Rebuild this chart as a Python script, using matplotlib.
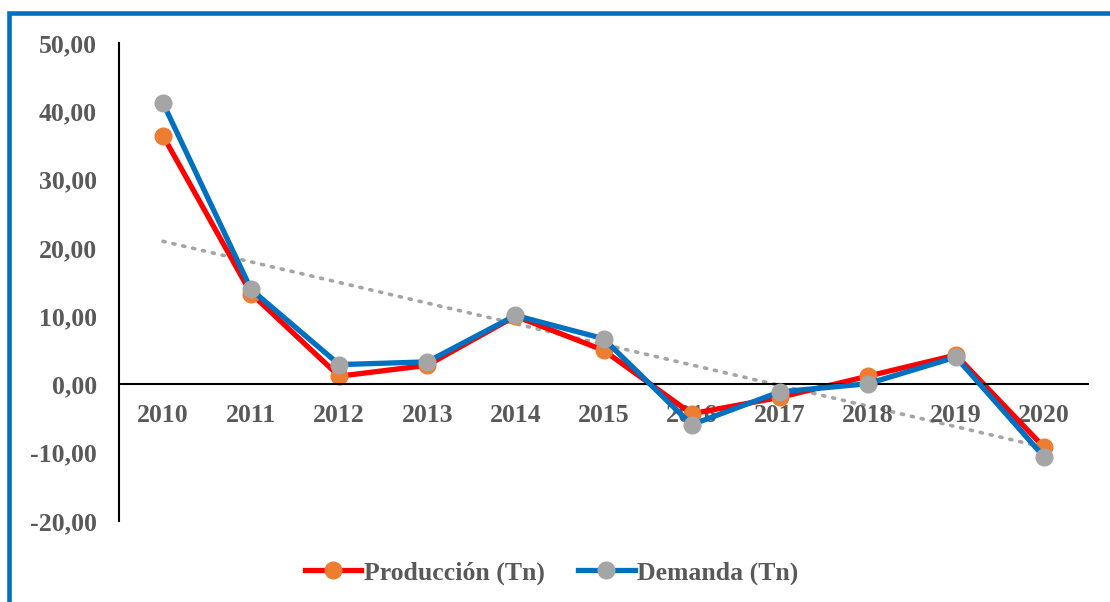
import matplotlib.pyplot as plt
import numpy as np
from matplotlib.patches import Rectangle

plt.rcParams["font.family"] = ["Liberation Serif", "DejaVu Serif"]
plt.rcParams["font.weight"] = "bold"

years = ["2010", "2011", "2012", "2013", "2014", "2015",
         "2016", "2017", "2018", "2019", "2020"]
produccion = [36.4, 13.3, 1.2, 2.8, 10.0, 5.0, -4.3, -1.9, 1.2, 4.3, -9.2]
demanda = [41.2, 13.9, 2.9, 3.3, 10.1, 6.7, -5.9, -1.1, 0.1, 4.0, -10.6]

text_color = "#595959"

fig = plt.figure(figsize=(11.1, 6.02), dpi=100)
ax = fig.add_axes([0.1072, 0.1346, 0.873, 0.794])

x = np.arange(len(years))

# Linear trend of demand
coef = np.polyfit(x, demanda, 1)
ax.plot(x, np.polyval(coef, x), color="#A5A5A5", lw=2.6,
        linestyle=(0, (0.6, 2.2)), dash_capstyle="round", zorder=1)

ax.plot(x, produccion, color="#FF0000", lw=3.8, marker="o", ms=12,
        markerfacecolor="#ED7D31", markeredgecolor="#ED7D31",
        label="Producción (Tn)", zorder=2)
ax.plot(x, demanda, color="#0070C0", lw=3.8, marker="o", ms=12,
        markerfacecolor="#A5A5A5", markeredgecolor="#A5A5A5",
        label="Demanda (Tn)", zorder=3)

ax.set_xlim(-0.5, len(years) - 0.5)
ax.set_ylim(-20, 50)
ax.set_yticks(np.arange(-20, 51, 10))
ax.set_yticklabels([f"{v:.2f}".replace(".", ",") for v in np.arange(-20, 51, 10)])
ax.set_xticks(x)
ax.set_xticklabels(years)

ax.spines["top"].set_visible(False)
ax.spines["right"].set_visible(False)
ax.spines["bottom"].set_position(("data", 0))
ax.spines["bottom"].set_linewidth(1.5)
ax.spines["left"].set_linewidth(1.5)

ax.tick_params(axis="both", length=0, labelsize=18.5, colors=text_color)
ax.tick_params(axis="y", pad=16)
ax.tick_params(axis="x", pad=14)
for lbl in ax.get_xticklabels() + ax.get_yticklabels():
    lbl.set_fontweight("bold")

leg = fig.legend(loc="center", bbox_to_anchor=(0.497, 0.048), ncol=2,
                 frameon=False, fontsize=18.5, handlelength=2.2,
                 handletextpad=0.1, columnspacing=1.3)
for t in leg.get_texts():
    t.set_color(text_color)
    t.set_fontweight("bold")

# Blue frame around the chart
fig.patches.append(Rectangle((9 / 1110, -0.1), 1.2, 1 - 13 / 602 + 0.1,
                             transform=fig.transFigure, fill=False,
                             edgecolor="#0070C0", lw=3.3))

fig.savefig("out.png", dpi=100)
